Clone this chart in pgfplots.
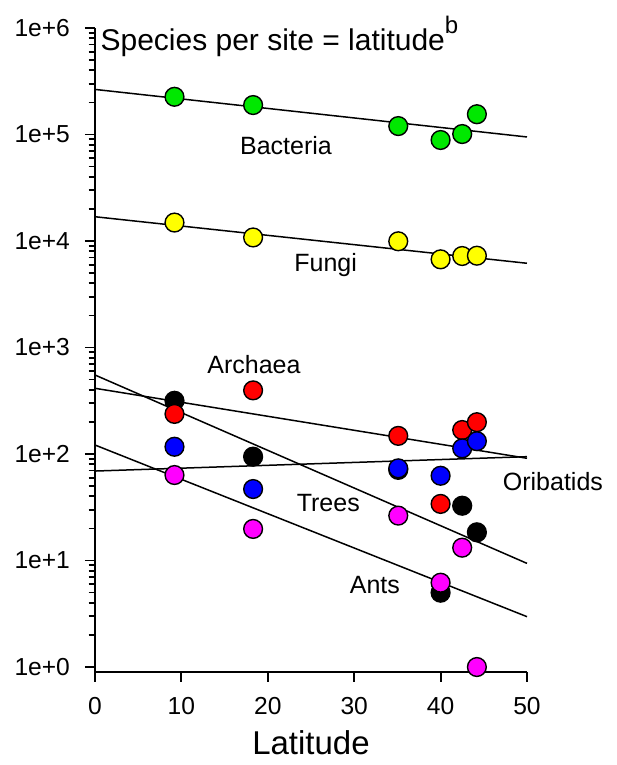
\documentclass[border=0pt]{standalone}
\usepackage{pgfplots}
\pgfplotsset{compat=1.18}
\usepackage{fontspec}
\setmainfont{Liberation Sans}

\definecolor{bactgreen}{RGB}{0,232,0}
\definecolor{fungyellow}{RGB}{255,255,0}
\definecolor{archred}{RGB}{255,0,0}
\definecolor{oribblue}{RGB}{0,0,255}
\definecolor{antmag}{RGB}{255,0,255}

\begin{document}
\begin{tikzpicture}
\useasboundingbox (-47.5pt,-46.5pt) rectangle (260.5pt,336pt);
\begin{axis}[
    scale only axis,
    width=216pt,
    height=322pt,
    xmin=0, xmax=50,
    ymode=log,
    ymin=0.898, ymax=1e6,
    axis x line*=bottom,
    axis y line*=left,
    axis line style={line width=1pt, -},
    xtick align=outside,
    ytick align=outside,
    major tick length=5pt,
    minor tick length=3.2pt,
    xtick style={draw=black, line width=1pt},
    ytick style={draw=black, line width=0.9pt},
    xtick={0,10,20,30,40,50},
    ytick={1,10,100,1000,10000,100000,1000000},
    yticklabels={1e+0,1e+1,1e+2,1e+3,1e+4,1e+5,1e+6},
    minor ytick={2,3,4,5,6,7,8,9,
      20,30,40,50,60,70,80,90,
      200,300,400,500,600,700,800,900,
      2e3,3e3,4e3,5e3,6e3,7e3,8e3,9e3,
      2e4,3e4,4e4,5e4,6e4,7e4,8e4,9e4,
      2e5,3e5,4e5,5e5,6e5,7e5,8e5,9e5},
    /pgf/number format/assume math mode=true,
    tick label style={font=\fontsize{12.3}{14}\selectfont},
    xticklabel style={yshift=-4pt},
    yticklabel style={xshift=-4pt},
    xlabel={Latitude},
    xlabel style={font=\fontsize{16.5}{19}\selectfont, yshift=-3.5pt, inner sep=1pt},
    clip=false,
    mark options={solid, draw=black, line width=0.7pt},
]
% fitted lines
\addplot[black, line width=0.75pt] coordinates {(0,265000) (50,94800)};
\addplot[black, line width=0.75pt] coordinates {(0,16900) (50,6180)};
\addplot[black, line width=0.75pt] coordinates {(0,552) (50,9.4)};
\addplot[black, line width=0.75pt] coordinates {(0,414) (50,91.2)};
\addplot[black, line width=0.75pt] coordinates {(0,69.2) (50,94.4)};
\addplot[black, line width=0.75pt] coordinates {(0,121.5) (50,2.97)};

% Bacteria
\addplot[only marks, mark=*, mark size=4.7pt, fill=bactgreen] coordinates {
(9.2,226000) (18.3,189000) (35.1,120000) (40.0,88800) (42.5,101000) (44.2,155000)};
% Fungi
\addplot[only marks, mark=*, mark size=4.7pt, fill=fungyellow] coordinates {
(9.2,14900) (18.3,10800) (35.1,9940) (40.0,6730) (42.5,7230) (44.2,7280)};
% Trees
\addplot[only marks, mark=*, mark size=4.7pt, fill=black] coordinates {
(9.2,316) (18.3,94.4) (35.1,71) (42.5,32.7) (44.2,18.4) (40.0,4.99)};
% Archaea
\addplot[only marks, mark=*, mark size=4.7pt, fill=archred] coordinates {
(9.2,238) (18.3,396) (35.1,148) (40.0,34) (42.5,168) (44.2,199)};
% Oribatids
\addplot[only marks, mark=*, mark size=4.7pt, fill=oribblue] coordinates {
(9.2,117) (18.3,46.9) (35.1,73.4) (40.0,62.5) (42.5,113) (44.2,132)};
% Ants
\addplot[only marks, mark=*, mark size=4.7pt, fill=antmag] coordinates {
(9.2,63.5) (18.3,19.8) (35.1,26.4) (42.5,13.2) (40.0,6.19) (44.2,1.0)};

\node[anchor=base west, inner sep=0pt, font=\fontsize{15}{18}\selectfont]
  at (axis cs:0.6,620000) {Species per site = latitude\raisebox{8.5pt}{\fontsize{12}{14}\selectfont b}};
\node[font=\fontsize{12.5}{15}\selectfont] at (axis cs:22.1,79000) {Bacteria};
\node[font=\fontsize{12.5}{15}\selectfont] at (axis cs:26.7,5950) {Fungi};
\node[font=\fontsize{12.5}{15}\selectfont] at (axis cs:18.4,685) {Archaea};
\node[font=\fontsize{12.5}{15}\selectfont] at (axis cs:27.0,34.7) {Trees};
\node[font=\fontsize{12.5}{15}\selectfont] at (axis cs:53.0,54.6) {Oribatids};
\node[font=\fontsize{12.5}{15}\selectfont] at (axis cs:32.4,5.9) {Ants};
\end{axis}
\end{tikzpicture}
\end{document}
